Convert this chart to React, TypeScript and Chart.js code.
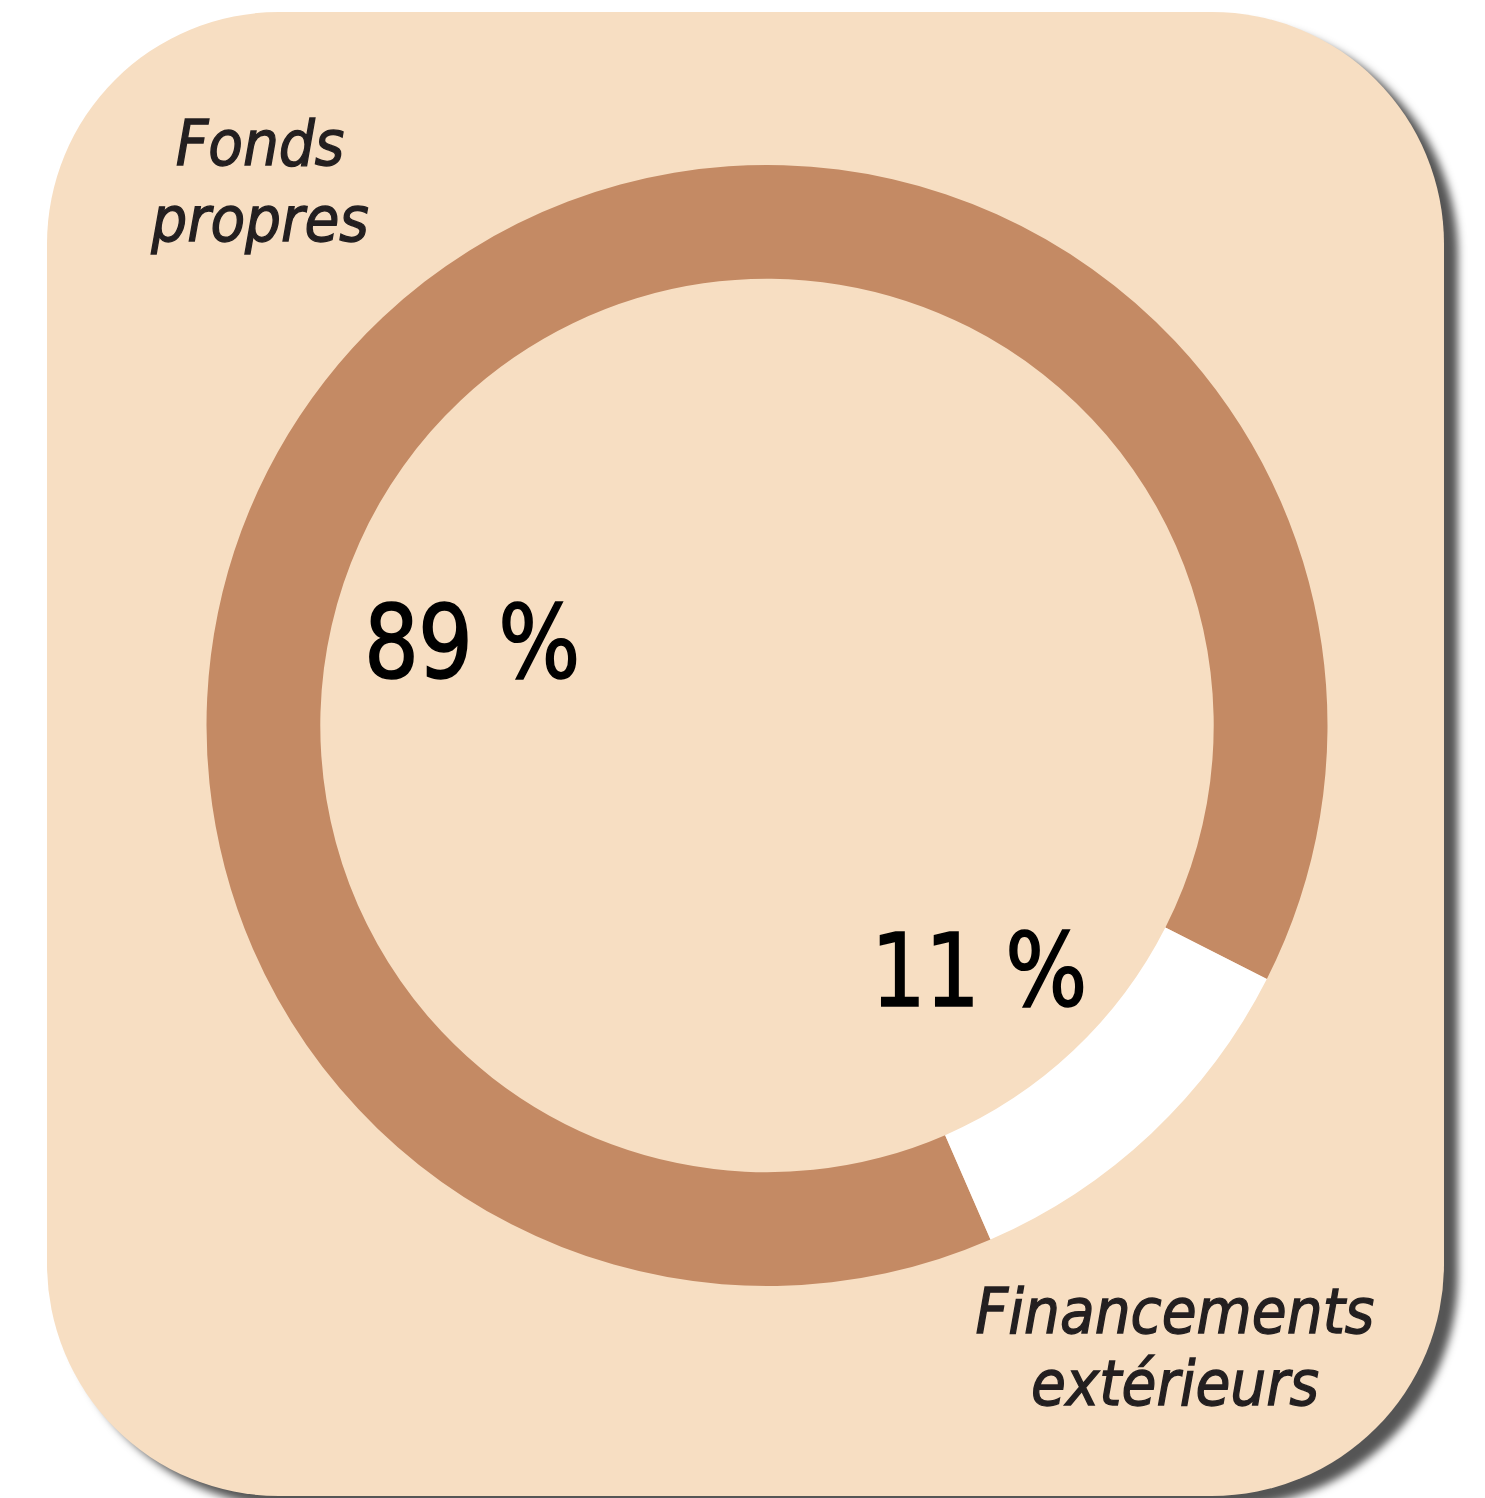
import React, { useEffect, useRef } from "react";
import { Chart, registerables } from "chart.js";

Chart.register(...registerables);

const categories = ["Fonds propres", "Financements extérieurs"];
const values = [89, 11];
const valueLabels = ["89 %", "11 %"];
const colors = ["#C48A64", "#FFFFFF"];

const W = 1485;
const H = 1498;
const condensed = "'DejaVu Sans Condensed', 'DejaVu Sans', sans-serif";

export default function App() {
  const ref = useRef<HTMLCanvasElement | null>(null);

  useEffect(() => {
    if (!ref.current) return;
    const chart = new Chart(ref.current, {
      type: "doughnut",
      data: {
        labels: categories,
        datasets: [
          {
            data: values,
            backgroundColor: colors,
            borderWidth: 0,
            hoverOffset: 0,
          },
        ],
      },
      options: {
        responsive: false,
        animation: false,
        devicePixelRatio: 1,
        rotation: 156.5,
        cutout: "79.7%",
        layout: { padding: { left: 206, right: 157, top: 165, bottom: 212 } },
        plugins: {
          legend: { display: false },
          tooltip: { enabled: false },
        },
      },
    });
    return () => chart.destroy();
  }, []);

  const italic: React.CSSProperties = {
    position: "absolute",
    fontFamily: condensed,
    fontStyle: "italic",
    fontStretch: "condensed",
    color: "#231F20",
    WebkitTextStroke: "1.3px #231F20",
    textAlign: "center",
    whiteSpace: "nowrap",
    fontSize: 63,
    lineHeight: "76px",
  };
  const num: React.CSSProperties = {
    position: "absolute",
    fontFamily: condensed,
    fontStretch: "condensed",
    color: "#000",
    WebkitTextStroke: "1.6px #000",
    whiteSpace: "nowrap",
    fontSize: 102,
    lineHeight: "102px",
    letterSpacing: "-1px",
    transform: "scaleX(0.94)",
    transformOrigin: "left top",
  };

  return (
    <div style={{ position: "absolute", left: 0, top: 0, width: W, height: H, overflow: "hidden", background: "#fff" }}>
      <div
        style={{
          position: "absolute",
          left: 47,
          top: 12,
          width: 1397,
          height: 1484,
          borderRadius: 232,
          background: "#F7DEC2",
          boxShadow: "14px 11px 8px #555",
        }}
      />
      <canvas ref={ref} width={W} height={H} style={{ position: "absolute", left: 0, top: 0 }} />
      <div style={{ ...italic, left: 60, width: 400, top: 106 }}>
        Fonds
        <br />
        propres
      </div>
      <div style={{ ...italic, left: 975, width: 400, top: 1276, lineHeight: "72px" }}>
        Financements
        <br />
        extérieurs
      </div>
      <div style={{ ...num, left: 364, top: 592 }}>{valueLabels[0]}</div>
      <div style={{ ...num, left: 871, top: 920 }}>{valueLabels[1]}</div>
    </div>
  );
}
